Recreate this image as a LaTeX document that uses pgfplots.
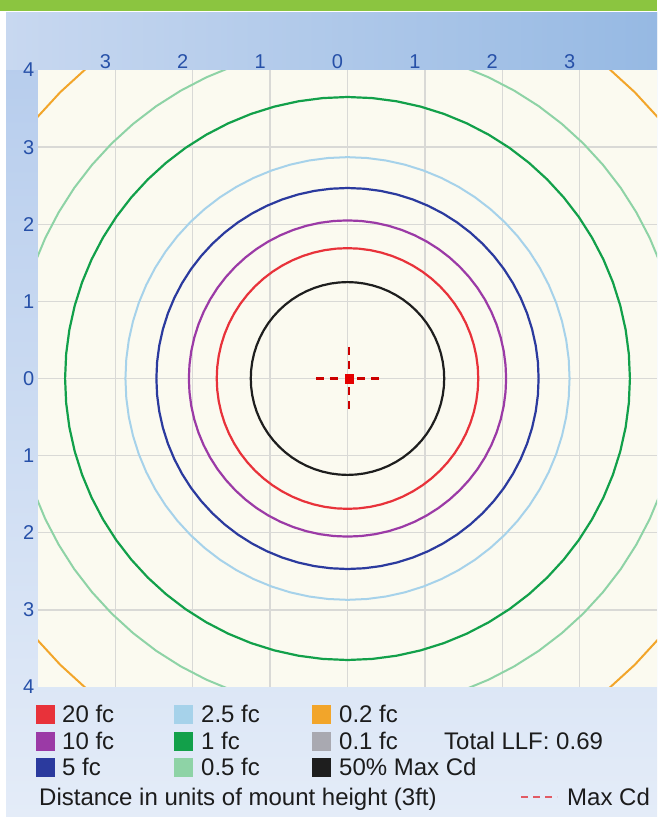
\documentclass[border=0pt]{standalone}
\usepackage{pgfplots}
\pgfplotsset{compat=1.18}
\usepackage{pgfplotstable}
\usepackage{fontspec}
\setmainfont{Liberation Sans}

\definecolor{cA}{HTML}{E8323A}
\definecolor{cB}{HTML}{9B3AA6}
\definecolor{cC}{HTML}{2B3A9E}
\definecolor{cD}{HTML}{A6D2EA}
\definecolor{cE}{HTML}{12A04A}
\definecolor{cF}{HTML}{8ED3A6}
\definecolor{cG}{HTML}{F2A52A}
\definecolor{cH}{HTML}{A9A9B1}
\definecolor{cI}{HTML}{1E1E1E}
\definecolor{plotbg}{HTML}{FBFAF0}
\definecolor{gridc}{HTML}{D9D9D6}
\definecolor{tickc}{HTML}{2650A8}
\definecolor{greenbar}{HTML}{8BC540}
\definecolor{txt}{HTML}{1C1C1C}

% unit circle, 5 degree steps (scaled by each contour's radius)
\pgfplotstableread{
x y
1.0000 0.0000
0.9962 0.0872
0.9848 0.1736
0.9659 0.2588
0.9397 0.3420
0.9063 0.4226
0.8660 0.5000
0.8192 0.5736
0.7660 0.6428
0.7071 0.7071
0.6428 0.7660
0.5736 0.8192
0.5000 0.8660
0.4226 0.9063
0.3420 0.9397
0.2588 0.9659
0.1736 0.9848
0.0872 0.9962
0.0000 1.0000
-0.0872 0.9962
-0.1736 0.9848
-0.2588 0.9659
-0.3420 0.9397
-0.4226 0.9063
-0.5000 0.8660
-0.5736 0.8192
-0.6428 0.7660
-0.7071 0.7071
-0.7660 0.6428
-0.8192 0.5736
-0.8660 0.5000
-0.9063 0.4226
-0.9397 0.3420
-0.9659 0.2588
-0.9848 0.1736
-0.9962 0.0872
-1.0000 0.0000
-0.9962 -0.0872
-0.9848 -0.1736
-0.9659 -0.2588
-0.9397 -0.3420
-0.9063 -0.4226
-0.8660 -0.5000
-0.8192 -0.5736
-0.7660 -0.6428
-0.7071 -0.7071
-0.6428 -0.7660
-0.5736 -0.8192
-0.5000 -0.8660
-0.4226 -0.9063
-0.3420 -0.9397
-0.2588 -0.9659
-0.1736 -0.9848
-0.0872 -0.9962
0.0000 -1.0000
0.0872 -0.9962
0.1736 -0.9848
0.2588 -0.9659
0.3420 -0.9397
0.4226 -0.9063
0.5000 -0.8660
0.5736 -0.8192
0.6428 -0.7660
0.7071 -0.7071
0.7660 -0.6428
0.8192 -0.5736
0.8660 -0.5000
0.9063 -0.4226
0.9397 -0.3420
0.9659 -0.2588
0.9848 -0.1736
0.9962 -0.0872
1.0000 0.0000
}\unitcircle

\newcommand{\legfont}{\fontsize{24}{24}\selectfont}

\begin{document}
\begin{tikzpicture}
% background panel
\fill[white] (0pt,0pt) rectangle (657pt,823pt);
\fill[greenbar] (0pt,812pt) rectangle (657pt,823pt);
\shade[top color={rgb,255:red,180;green,203;blue,236}, bottom color={rgb,255:red,228;green,236;blue,248}] (6pt,6pt) rectangle (657pt,810pt);
\shade[left color={rgb,255:red,200;green,216;blue,240}, right color={rgb,255:red,150;green,185;blue,227}] (6pt,753pt) rectangle (657pt,810pt);

\begin{axis}[
  at={(38pt,136pt)}, anchor=south west,
  scale only axis, width=619pt, height=617pt,
  xmin=-4, xmax=4, ymin=-4, ymax=4,
  axis background/.style={fill=plotbg},
  axis line style={draw=none},
  xtick={-3,-2,-1,0,1,2,3}, xticklabels={3,2,1,0,1,2,3},
  ytick={-3,-2,-1,0,1,2,3}, yticklabels={3,2,1,0,1,2,3},
  extra y ticks={-4,4}, extra y tick labels={4,4},
  extra y tick style={grid=none},
  xticklabel pos=upper,
  grid=major, grid style={color=gridc, line width=1.3pt},
  major tick length=0pt,
  ticklabel style={font=\fontsize{20}{20}\selectfont, text=tickc},
  xticklabel style={xshift=-10pt, inner sep=1.5pt},
  yticklabel style={inner sep=3.5pt},
  clip=true,
]
\addplot[cG, line width=2pt] table[x expr=\thisrow{x}*5.25, y expr=\thisrow{y}*5.25] {\unitcircle};
\addplot[cF, line width=2pt] table[x expr=\thisrow{x}*4.31, y expr=\thisrow{y}*4.31] {\unitcircle};
\addplot[cE, line width=2.2pt] table[x expr=\thisrow{x}*3.65, y expr=\thisrow{y}*3.65] {\unitcircle};
\addplot[cD, line width=2pt] table[x expr=\thisrow{x}*2.87, y expr=\thisrow{y}*2.87] {\unitcircle};
\addplot[cC, line width=2.2pt] table[x expr=\thisrow{x}*2.47, y expr=\thisrow{y}*2.47] {\unitcircle};
\addplot[cB, line width=2.2pt] table[x expr=\thisrow{x}*2.05, y expr=\thisrow{y}*2.05] {\unitcircle};
\addplot[cA, line width=2.2pt] table[x expr=\thisrow{x}*1.69, y expr=\thisrow{y}*1.69] {\unitcircle};
\addplot[cI, line width=2.2pt] table[x expr=\thisrow{x}*1.25, y expr=\thisrow{y}*1.25] {\unitcircle};
% Max Cd crosshair
\addplot[red!80!black, line width=2.2pt, dash pattern=on 8pt off 6pt] coordinates {(-0.41,0) (-0.12,0)};
\addplot[red!80!black, line width=2.2pt, dash pattern=on 8pt off 6pt] coordinates {(0.41,0) (0.12,0)};
\addplot[red!80!black, line width=2.2pt, dash pattern=on 8pt off 6pt] coordinates {(0.02,0.41) (0.02,0.12)};
\addplot[red!80!black, line width=2.2pt, dash pattern=on 8pt off 6pt] coordinates {(0.02,-0.39) (0.02,-0.10)};
\addplot[only marks, mark=square*, mark size=4.2pt, color=red!90!black] coordinates {(0.02,0)};
\end{axis}

% legend
\fill[cA] (36pt,99pt) rectangle (55pt,118pt);
\fill[cB] (36pt,72pt) rectangle (55pt,91pt);
\fill[cC] (36pt,46pt) rectangle (55pt,65pt);
\fill[cD] (174pt,99pt) rectangle (193pt,118pt);
\fill[cE] (174pt,72pt) rectangle (193pt,91pt);
\fill[cF] (174pt,46pt) rectangle (193pt,65pt);
\fill[cG] (312pt,99pt) rectangle (331pt,118pt);
\fill[cH] (312pt,72pt) rectangle (331pt,91pt);
\fill[cI] (312pt,46pt) rectangle (331pt,65pt);
\begin{scope}[every node/.style={anchor=base west, inner sep=0pt, font=\legfont, text=txt}]
\node at (62pt,100pt) {20 fc};
\node at (62pt,73pt) {10 fc};
\node at (62pt,47pt) {5 fc};
\node at (201pt,100pt) {2.5 fc};
\node at (201pt,73pt) {1 fc};
\node at (201pt,47pt) {0.5 fc};
\node at (339pt,100pt) {0.2 fc};
\node at (339pt,73pt) {0.1 fc};
\node at (339pt,47pt) {50\% Max Cd};
\node at (444pt,73pt) {Total LLF: 0.69};
\node at (39pt,17pt) {Distance in units of mount height (3ft)};
\node at (567pt,17pt) {Max Cd};
\end{scope}
\draw[color={rgb,255:red,225;green,90;blue,100}, line width=2pt, dash pattern=on 7pt off 5pt] (521pt,26pt) -- (557pt,26pt);

\pgfresetboundingbox
\useasboundingbox (0pt,0pt) rectangle (657pt,823pt);
\end{tikzpicture}
\end{document}
